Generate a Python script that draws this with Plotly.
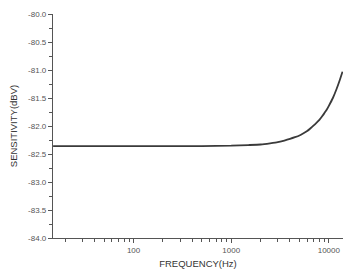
import plotly.graph_objects as go

freq_hz = [15, 30, 60, 100, 200, 500, 1000, 1500, 2000, 2500, 3000, 3500, 4000, 4500,
           5000, 5500, 6000, 6500, 7000, 7500, 8000, 8500, 9000, 9500, 10000, 11000,
           12000, 13000, 13800]
sensitivity_dbv = [-82.36, -82.36, -82.36, -82.36, -82.36, -82.358, -82.352, -82.34,
                   -82.33, -82.31, -82.29, -82.26, -82.23, -82.20, -82.17, -82.13,
                   -82.09, -82.04, -81.99, -81.94, -81.89, -81.83, -81.77, -81.71,
                   -81.64, -81.50, -81.34, -81.17, -81.03]

y_ticks = [-80.0, -80.5, -81.0, -81.5, -82.0, -82.5, -83.0, -83.5, -84.0]
x_ticks = [100, 1000, 10000]
x_tick_labels = ["100", "1000", "10000"]

fig = go.Figure()
fig.add_trace(go.Scatter(
    x=freq_hz, y=sensitivity_dbv, mode="lines",
    line=dict(color="#3a3a3a", width=1.8, shape="spline", smoothing=0.5),
    showlegend=False,
))

font_family = "Liberation Sans, Arial, sans-serif"
minor_x = [v * m for v in (10, 100, 1000) for m in range(2, 10)] + [20000]

fig.update_layout(
    width=352, height=271,
    margin=dict(l=53, r=9, t=14, b=33),
    paper_bgcolor="white", plot_bgcolor="white",
    font=dict(family=font_family, color="#444444"),
    xaxis=dict(
        type="log", range=[1.175, 4.145], automargin=False,
        tickvals=x_ticks, ticktext=x_tick_labels,
        ticks="outside", ticklen=4, tickwidth=1, tickcolor="#555555",
        showline=True, linecolor="#555555", linewidth=1.2,
        showgrid=False, zeroline=False,
        tickfont=dict(size=8, color="#555555"),
        minor=dict(tickvals=minor_x, ticks="outside", ticklen=2.5,
                   tickcolor="#555555", showgrid=False),
        title=dict(text="FREQUENCY(Hz)", font=dict(size=9.5, color="#333333"), standoff=6),
    ),
    yaxis=dict(
        range=[-84.0, -80.0], automargin=False,
        tickvals=y_ticks, ticktext=[f"{v:.1f}" for v in y_ticks],
        ticks="outside", ticklen=4, tickwidth=1, tickcolor="#555555",
        showline=True, linecolor="#555555", linewidth=1.2,
        showgrid=False, zeroline=False,
        tickfont=dict(size=8, color="#555555"),
        minor=dict(dtick=0.25, ticks="outside", ticklen=2.5,
                   tickcolor="#555555", showgrid=False),
        title=dict(text="SENSITIVITY(dBV)", font=dict(size=9.5, color="#333333"), standoff=8),
    ),
)

fig.write_html("out.html")
